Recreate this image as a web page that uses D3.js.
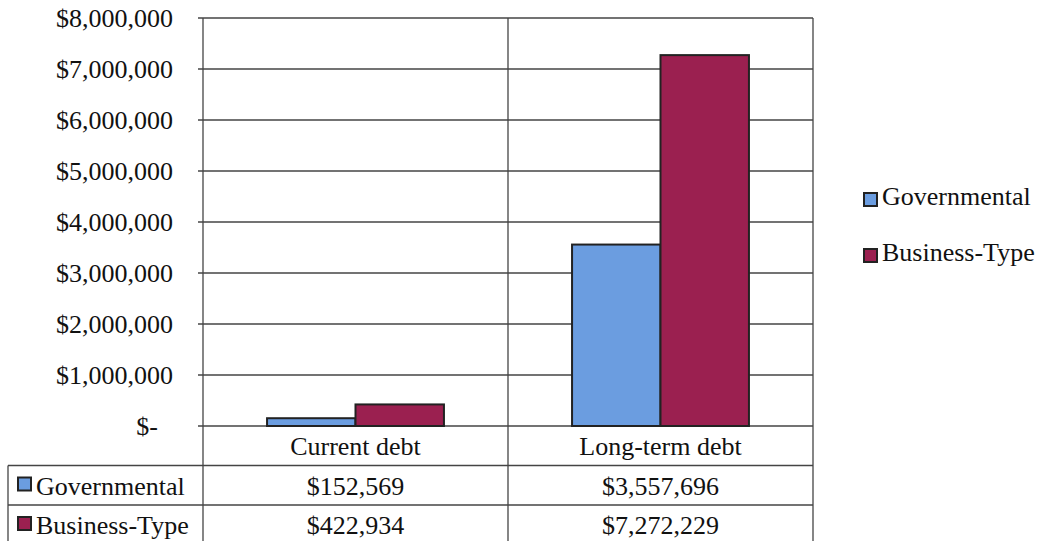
<!DOCTYPE html>
<html>
<head>
<meta charset="utf-8">
<script src="https://cdn.jsdelivr.net/npm/d3@7"></script>
<style>
  body { margin: 0; background: #fff; }
  svg text { font-family: "Liberation Serif", "Times New Roman", serif; fill: #111; font-size: 26px; }
</style>
</head>
<body>
<div id="chart"></div>
<script>
var categories = ["Current debt", "Long-term debt"];
var seriesNames = ["Governmental", "Business-Type"];
var governmental = [152569, 3557696];
var businessType = [422934, 7272229];
var yTicks = [0, 1000000, 2000000, 3000000, 4000000, 5000000, 6000000, 7000000, 8000000];
var colors = ["#6b9de0", "#9b2050"];

var W = 1041, H = 541;
var plot = { left: 203, right: 813, top: 18, bottom: 426 };
var rowH = 39.5;

var svg = d3.select("#chart").append("svg").attr("width", W).attr("height", H);

var x0 = d3.scaleBand().domain(categories).range([plot.left, plot.right]);
var x1 = d3.scaleBand().domain(seriesNames).range([0, x0.bandwidth() * 0.58]);
var y = d3.scaleLinear().domain([0, 8000000]).range([plot.bottom, plot.top]);

var fmt = function (v) {
  return v === 0 ? "$-" : "$" + d3.format(",")(v);
};

// gridlines
svg.append("g").selectAll("line").data(yTicks).enter().append("line")
  .attr("x1", plot.left - 5).attr("x2", plot.right)
  .attr("y1", function (d) { return y(d); }).attr("y2", function (d) { return y(d); })
  .attr("stroke", "#444").attr("stroke-width", 1.3);

// y labels
svg.append("g").selectAll("text").data(yTicks).enter().append("text")
  .attr("x", function (d) { return d === 0 ? 158 : 173; })
  .attr("y", function (d) { return y(d) + 9; })
  .attr("text-anchor", "end")
  .text(fmt);

// bars
var data = categories.map(function (c, i) {
  return { cat: c, vals: [governmental[i], businessType[i]] };
});
var groups = svg.append("g").selectAll("g").data(data).enter().append("g")
  .attr("transform", function (d) {
    return "translate(" + (x0(d.cat) + x0.bandwidth() * 0.21) + ",0)";
  });
groups.selectAll("rect").data(function (d) {
  return d.vals.map(function (v, j) { return { name: seriesNames[j], v: v, j: j }; });
}).enter().append("rect")
  .attr("x", function (d) { return x1(d.name); })
  .attr("width", x1.bandwidth())
  .attr("y", function (d) { return y(d.v); })
  .attr("height", function (d) { return plot.bottom - y(d.v); })
  .attr("fill", function (d) { return colors[d.j]; })
  .attr("stroke", "#222").attr("stroke-width", 2);

// vertical lines (axis, divider, right edge) extending through table
var tableBottom = H + 5;
var vlines = [plot.left, x0(categories[1]), plot.right];
svg.append("g").selectAll("line").data(vlines).enter().append("line")
  .attr("x1", function (d) { return d; }).attr("x2", function (d) { return d; })
  .attr("y1", plot.top).attr("y2", tableBottom)
  .attr("stroke", "#444").attr("stroke-width", 1.3);

// table
var tableLeft = 8;
var rowTops = [plot.bottom + rowH, plot.bottom + 2 * rowH];
svg.append("g").selectAll("line").data(rowTops).enter().append("line")
  .attr("x1", tableLeft).attr("x2", plot.right)
  .attr("y1", function (d) { return d; }).attr("y2", function (d) { return d; })
  .attr("stroke", "#444").attr("stroke-width", 1.3);
svg.append("line")
  .attr("x1", tableLeft).attr("x2", tableLeft)
  .attr("y1", rowTops[0]).attr("y2", tableBottom)
  .attr("stroke", "#444").attr("stroke-width", 1.3);

// category labels
svg.append("g").selectAll("text").data(categories).enter().append("text")
  .attr("x", function (d) { return x0(d) + x0.bandwidth() / 2; })
  .attr("y", plot.bottom + 29)
  .attr("text-anchor", "middle")
  .text(function (d) { return d; });

// table rows
var rows = [governmental, businessType];
rows.forEach(function (vals, r) {
  var ty = rowTops[r] + 29;
  svg.append("rect")
    .attr("x", 18).attr("y", ty - 17)
    .attr("width", 13).attr("height", 13)
    .attr("fill", colors[r]).attr("stroke", "#222").attr("stroke-width", 2);
  svg.append("text").attr("x", 36).attr("y", ty)
    .text(seriesNames[r]);
  svg.append("g").selectAll("text").data(vals).enter().append("text")
    .attr("x", function (d, i) { return x0(categories[i]) + x0.bandwidth() / 2; })
    .attr("y", ty)
    .attr("text-anchor", "middle")
    .text(function (d) { return "$" + d3.format(",")(d); });
});

// legend
var legend = svg.append("g").selectAll("g").data(seriesNames).enter().append("g")
  .attr("transform", function (d, i) { return "translate(864," + (205 + i * 56) + ")"; });
legend.append("rect")
  .attr("x", 0).attr("y", -12).attr("width", 13).attr("height", 13)
  .attr("fill", function (d, i) { return colors[i]; })
  .attr("stroke", "#222").attr("stroke-width", 2);
legend.append("text").attr("x", 18).attr("y", 0)
  .text(function (d) { return d; });
</script>
</body>
</html>
